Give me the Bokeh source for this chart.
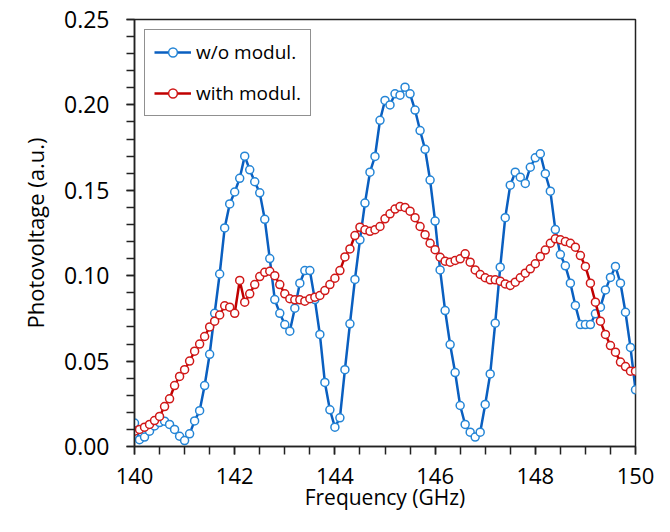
from bokeh.plotting import figure
from bokeh.models import FixedTicker, NumeralTickFormatter, Range1d
from bokeh.embed import file_html
from bokeh.resources import INLINE

freq = [round(140 + 0.1 * i, 1) for i in range(101)]

wo_modul = [
    0.0137, 0.004, 0.0055, 0.009, 0.012, 0.014, 0.0148, 0.0129, 0.010, 0.006,
    0.0035, 0.0074, 0.015, 0.021, 0.0357, 0.054, 0.078, 0.101, 0.128, 0.142,
    0.149, 0.157, 0.170, 0.162, 0.155, 0.1485, 0.133, 0.110, 0.086, 0.078,
    0.0714, 0.0675, 0.081, 0.0956, 0.103, 0.103, 0.086, 0.0656, 0.0375, 0.0215,
    0.0113, 0.0168, 0.045, 0.0718, 0.0978, 0.121, 0.1425, 0.1606, 0.1698, 0.191,
    0.2026, 0.200, 0.2065, 0.2057, 0.2104, 0.2065, 0.197, 0.185, 0.174, 0.156,
    0.132, 0.1034, 0.0796, 0.0597, 0.0433, 0.024, 0.0129, 0.0084, 0.0055, 0.0084,
    0.0246, 0.0425, 0.0722, 0.105, 0.134, 0.153, 0.1606, 0.1577, 0.154, 0.1635,
    0.169, 0.1714, 0.1597, 0.1495, 0.127, 0.1124, 0.1058, 0.0956, 0.0826, 0.0714,
    0.0714, 0.0714, 0.0777, 0.0816, 0.0917, 0.099, 0.1054, 0.0956, 0.0786, 0.058,
    0.0332,
]

with_modul = [
    0.009, 0.010, 0.0113, 0.0129, 0.0152, 0.0176, 0.0234, 0.0279, 0.0357, 0.041,
    0.045, 0.050, 0.0558, 0.060, 0.0644, 0.070, 0.0734, 0.077, 0.0824, 0.0816,
    0.078, 0.0972, 0.0845, 0.0894, 0.0948, 0.0995, 0.102, 0.1026, 0.100, 0.0948,
    0.0894, 0.0865, 0.0859, 0.0859, 0.0851, 0.0865, 0.0874, 0.0884, 0.0913, 0.0948,
    0.0985, 0.103, 0.111, 0.1157, 0.1235, 0.1284, 0.1269, 0.126, 0.1269, 0.1288,
    0.1333, 0.1362, 0.139, 0.1405, 0.140, 0.1378, 0.134, 0.1288, 0.124, 0.119,
    0.1152, 0.1108, 0.1085, 0.1079, 0.1089, 0.1099, 0.1128, 0.1079, 0.1034, 0.1007,
    0.0988, 0.0976, 0.0976, 0.0968, 0.0952, 0.0943, 0.0962, 0.0988, 0.1015, 0.104,
    0.107, 0.1112, 0.115, 0.119, 0.1216, 0.121, 0.120, 0.119, 0.1167, 0.1118,
    0.1054, 0.0956, 0.0845, 0.0734, 0.0656, 0.0591, 0.0552, 0.0494, 0.0468, 0.0441,
    0.0441,
]

x_ticks = [140, 142, 144, 146, 148, 150]
y_ticks = [0.0, 0.05, 0.10, 0.15, 0.20, 0.25]

FONT = "Open Sans"

p = figure(width=654, height=516, output_backend="svg", toolbar_location=None,
           x_range=Range1d(140, 150), y_range=Range1d(0, 0.25),
           min_border_left=134, min_border_right=19, min_border_top=19,
           min_border_bottom=70)

p.grid.visible = False
p.outline_line_color = "#222222"
p.outline_line_width = 1.5
p.background_fill_color = "white"
p.border_fill_color = "white"

blue_line = "#0A5FC0"
blue_mark = "#2485D6"
red_line = "#C00000"
red_mark = "#D01818"

p.line(freq, wo_modul, line_color=blue_line, line_width=2.5, legend_label="w/o modul.")
p.scatter(freq, wo_modul, marker="circle", size=8, line_color=blue_mark,
          fill_color="white", line_width=1.5, legend_label="w/o modul.")
p.line(freq, with_modul, line_color=red_line, line_width=2.5, legend_label="with modul.")
p.scatter(freq, with_modul, marker="circle", size=8, line_color=red_mark,
          fill_color="white", line_width=1.5, legend_label="with modul.")

# axes
p.xaxis.ticker = FixedTicker(ticks=x_ticks, minor_ticks=[140 + 0.5 * i for i in range(21)])
p.yaxis.ticker = FixedTicker(ticks=y_ticks, minor_ticks=[round(0.01 * i, 2) for i in range(26)])
p.yaxis.formatter = NumeralTickFormatter(format="0.00")

for ax in (p.xaxis, p.yaxis):
    ax.axis_line_color = "#222222"
    ax.axis_line_width = 1.5
    ax.major_tick_line_color = "#222222"
    ax.minor_tick_line_color = "#222222"
    ax.major_tick_line_width = 1.5
    ax.minor_tick_line_width = 1.5
    ax.major_tick_in = 0
    ax.minor_tick_in = 0
    ax.major_tick_out = 8
    ax.minor_tick_out = 8
    ax.major_label_text_font = FONT
    ax.major_label_text_color = "black"
    ax.axis_label_text_font = FONT
    ax.axis_label_text_font_style = "normal"
    ax.axis_label_text_color = "black"

p.yaxis.major_label_text_font_size = "23px"
p.xaxis.major_label_text_font_size = "22px"
p.yaxis.axis_label_text_font_size = "22px"
p.xaxis.axis_label_text_font_size = "21px"

p.xaxis.axis_label = "Frequency (GHz)"
p.yaxis.axis_label = "Photovoltage (a.u.)"
p.xaxis.major_label_standoff = 13
p.yaxis.major_label_standoff = 17
p.xaxis.axis_label_standoff = -4
p.yaxis.axis_label_standoff = 11

leg = p.legend[0]
leg.location = "top_left"
leg.margin = 10
leg.padding = 9
leg.spacing = 15
leg.glyph_width = 37
leg.glyph_height = 22
leg.label_height = 22
leg.label_standoff = 5
leg.label_text_font = FONT
leg.label_text_font_size = "19px"
leg.label_text_color = "black"
leg.border_line_color = "#222222"
leg.border_line_width = 1.5
leg.background_fill_alpha = 1.0

open("out.html", "w").write(file_html(p, INLINE))
